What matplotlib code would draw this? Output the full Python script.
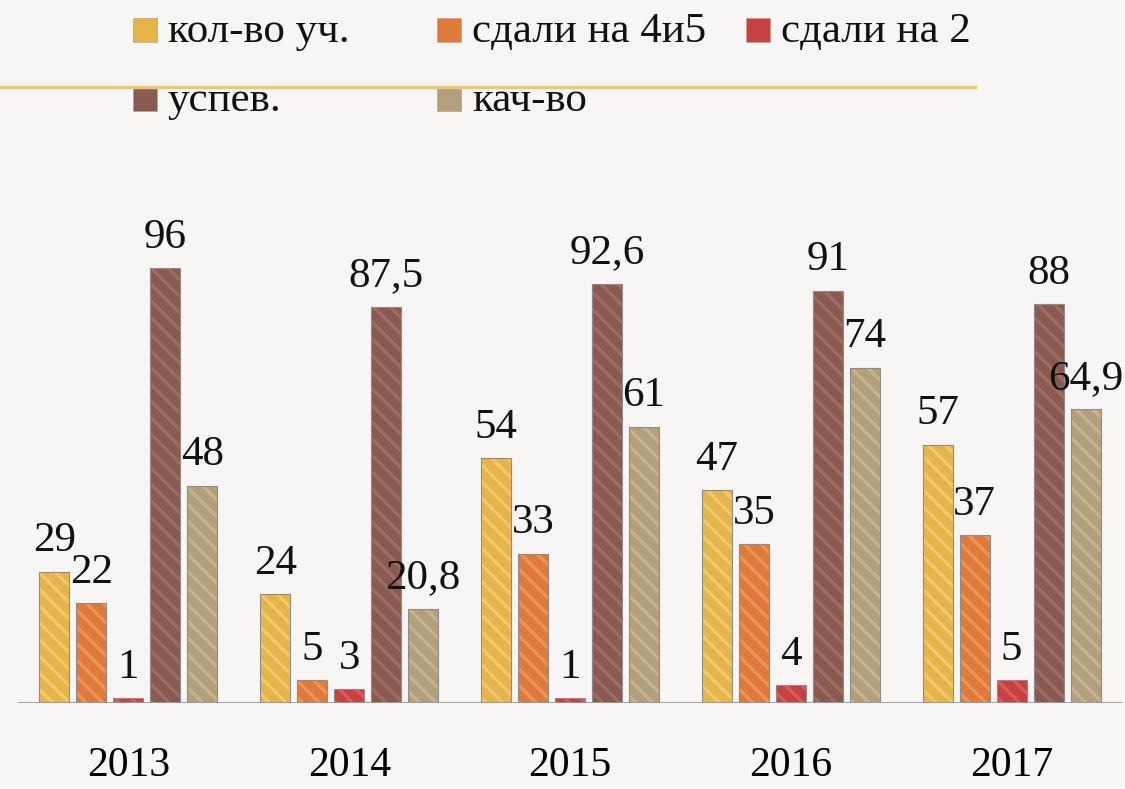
import numpy as np
import matplotlib.pyplot as plt
from matplotlib.patches import Rectangle

plt.rcParams['font.family'] = ['Liberation Serif', 'DejaVu Serif']
plt.rcParams['hatch.linewidth'] = 2.5

years = ["2013", "2014", "2015", "2016", "2017"]
series = ["кол-во уч.", "сдали на 4и5", "сдали на 2", "успев.", "кач-во"]
kol_vo = [29, 24, 54, 47, 57]
na_4i5 = [22, 5, 33, 35, 37]
na_2 = [1, 3, 1, 4, 5]
uspev = [96, 87.5, 92.6, 91, 88]
kach = [48, 20.8, 61, 74, 64.9]
labels = [
    ["29", "24", "54", "47", "57"],
    ["22", "5", "33", "35", "37"],
    ["1", "3", "1", "4", "5"],
    ["96", "87,5", "92,6", "91", "88"],
    ["48", "20,8", "61", "74", "64,9"],
]

colors = ["#e6b54a", "#df7a3a", "#c94040", "#8a5a50", "#b3a07a"]
stripes = ["#eec86a", "#e89456", "#d65c5a", "#9a6c62", "#c2b290"]
BG = "#f7f6f4"

fig = plt.figure(figsize=(11.25, 7.89), dpi=100, facecolor=BG)
ax = fig.add_axes([18/1125, 86/789, 1104/1125, 453/789])
ax.set_facecolor(BG)

x = np.arange(len(years))
w = 30/221
step = 37/221
data = [kol_vo, na_4i5, na_2, uspev, kach]
for k, vals in enumerate(data):
    pos = x + (k - 2) * step
    ax.bar(pos, vals, width=w, color=colors[k], edgecolor=stripes[k],
           hatch="\\\\", linewidth=0, zorder=2)
    ax.bar(pos, vals, width=w, fill=False, edgecolor="#8c8c8c",
           linewidth=0.8, zorder=3)
    for xi, v, lab in zip(pos, vals, labels[k]):
        ax.text(xi, v + 2.5, lab, ha="center", va="bottom",
                fontsize=31, color="#111111", clip_on=False)

ax.set_xlim(-0.5, 4.5)
ax.set_ylim(0, 100)
ax.axhline(0, color="#999999", linewidth=2, zorder=4)
for s in ax.spines.values():
    s.set_visible(False)
ax.set_yticks([])
ax.set_xticks(x)
ax.set_xticklabels(years, fontsize=30)
ax.tick_params(axis="x", length=0, pad=31)

# legend
leg_pos = [(133, 42), (437, 42), (746, 42), (133, 111), (437, 111)]
for k, (lx, ly) in enumerate(leg_pos):
    fig.patches.append(Rectangle((lx/1125, 1 - ly/789), 24/1125, 24/789,
                                 transform=fig.transFigure, facecolor=colors[k],
                                 edgecolor="#b0a890", linewidth=0.5))
    fig.text((lx + 35)/1125, 1 - ly/789, series[k], fontsize=31,
             va="baseline", ha="left", color="#111111")

fig.add_artist(plt.Line2D([0, 975/1125], [1 - 87/789, 1 - 87/789],
                          color="#e8c97a", linewidth=2.5,
                          transform=fig.transFigure))

fig.savefig("out.png", dpi=100, facecolor=BG)
